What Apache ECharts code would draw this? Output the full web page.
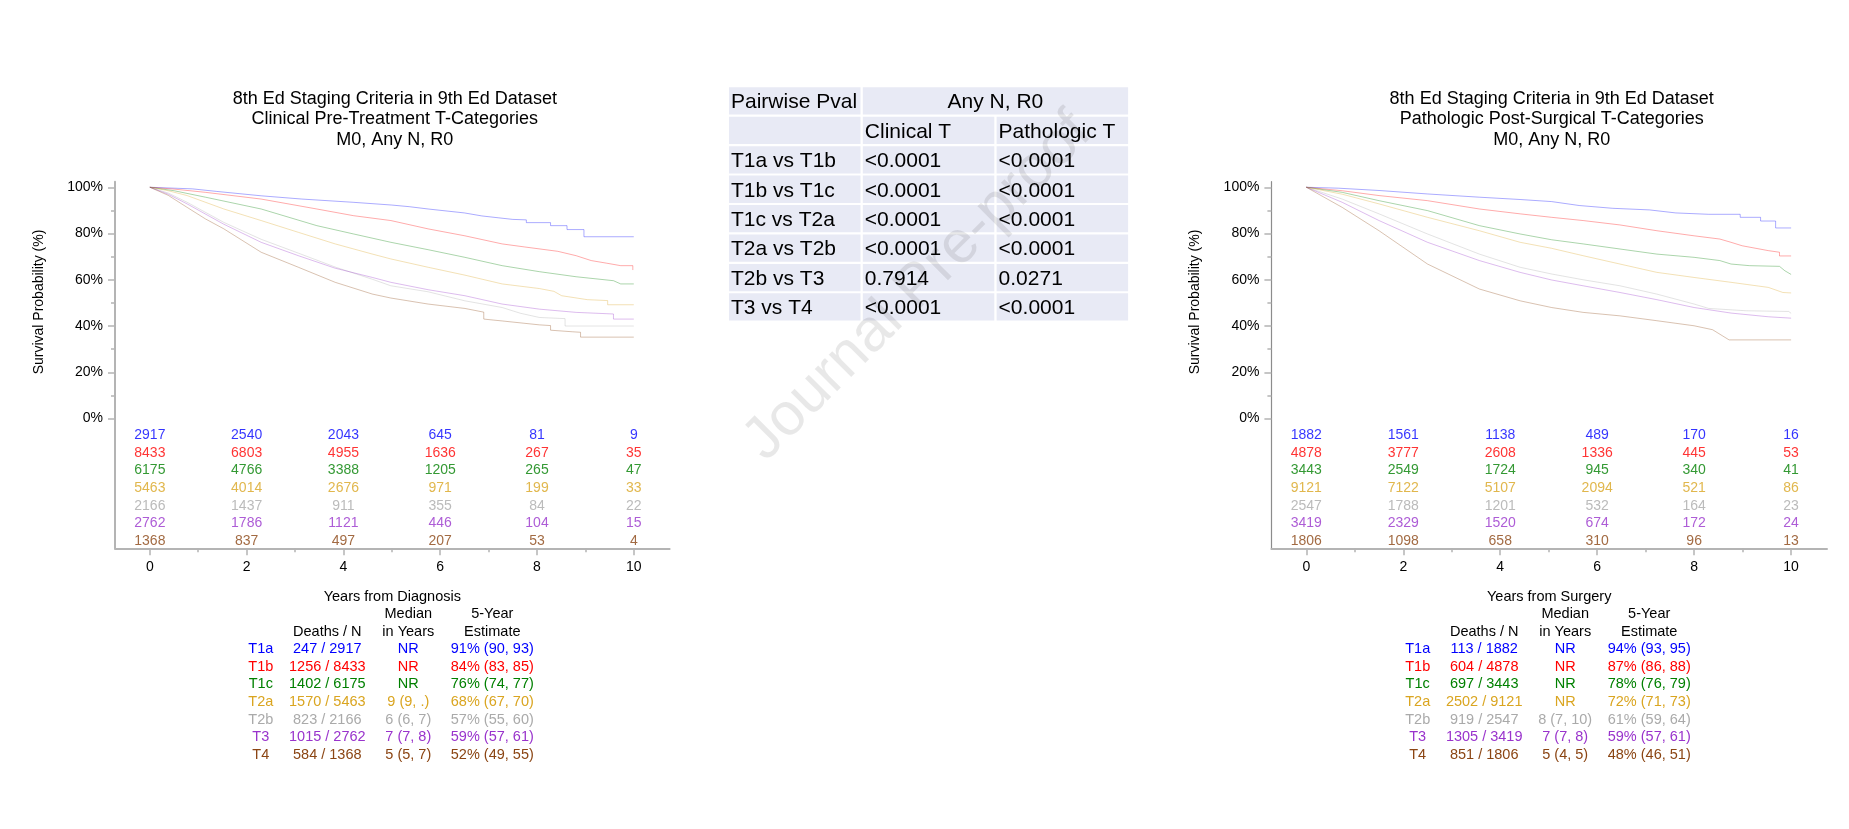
<!DOCTYPE html>
<html>
<head>
<meta charset="utf-8">
<script src="https://cdn.jsdelivr.net/npm/echarts@6/dist/echarts.min.js"></script>
<style>html,body{margin:0;padding:0;background:#fff}#c{width:1849px;height:829px}</style>
</head>
<body>
<div id="c"></div>
<script>
// ---------------- DATA ----------------
const groups = ['T1a', 'T1b', 'T1c', 'T2a', 'T2b', 'T3', 'T4'];
const years = [0, 2, 4, 6, 8, 10];
const minorYears = [1, 3, 5, 7, 9];
const pctTicks = [0, 20, 40, 60, 80, 100];
const pctMinor = [10, 30, 50, 70, 90];

// Clinical (left) KM curves [years, survival %]
const cT1a = [[0,100],[0.5,99.6],[0.88,99.3],[1.38,98.2],[2.3,96.3],[3.14,94.9],[4.2,93.5],[5.0,92.3],[5.36,91.6],[5.75,90.6],[6.5,88.9],[6.86,87.6],[7.2,86.8],[7.5,86.1],[7.78,85.9],[7.78,84.7],[8.28,84.7],[8.28,83.4],[8.62,83.4],[8.62,81.7],[8.97,81.7],[8.97,78.6],[10,78.6]];
const cT1b = [[0,100],[0.5,99.2],[1.15,97.8],[2.3,94.9],[3.45,90.6],[4.21,87.7],[4.98,85.6],[5.75,82.0],[6.51,79.0],[7.28,75.5],[7.74,74.2],[8.43,72.3],[8.81,70.4],[9.12,68.3],[9.43,67.2],[9.73,66.1],[9.98,66.1],[9.98,64.2]];
const cT1c = [[0,100],[0.5,98.5],[1.15,95.7],[2.3,90.6],[3.45,83.4],[4.21,79.8],[4.98,76.2],[5.75,73.0],[6.51,69.7],[7.28,66.1],[8.05,63.5],[8.81,61.3],[9.58,59.6],[9.73,58.2],[10,58.2]];
const cT2a = [[0,100],[0.38,98.5],[0.77,96.4],[1.53,90.6],[2.3,85.6],[3.07,80.5],[3.83,75.5],[4.6,71.1],[4.98,69.0],[5.75,65.4],[6.51,62.0],[7.28,58.2],[8.05,56.2],[8.35,55.0],[8.51,53.1],[9.04,51.4],[9.46,51.0],[9.46,49.2],[10,49.2]];
const cT2b = [[0,100],[0.38,97.5],[0.77,93.5],[1.53,84.8],[2.3,77.5],[3.07,71.5],[3.83,65.5],[4.6,60.2],[4.98,57.4],[5.75,54.8],[6.51,50.9],[7.28,48.0],[7.66,45.5],[8.05,43.7],[8.58,43.2],[8.58,40.0],[10,40.0]];
const cT3 = [[0,100],[0.38,97.0],[0.77,92.8],[1.53,84.0],[2.3,76.2],[3.07,70.4],[3.83,65.0],[4.6,61.0],[4.98,58.9],[5.75,55.7],[6.51,53.1],[7.28,49.5],[8.05,47.3],[8.81,45.9],[9.58,45.2],[9.58,43.0],[10,43.0]];
const cT4 = [[0,100],[0.38,96.5],[0.77,91.3],[1.15,86.3],[1.53,82.0],[2.3,71.9],[3.07,65.4],[3.83,58.9],[4.6,53.8],[4.98,52.1],[5.75,49.5],[6.51,47.6],[6.9,46.0],[6.9,43.0],[7.28,42.2],[8.05,40.5],[8.28,40.2],[8.28,38.2],[8.74,37.5],[8.9,37.3],[8.9,35.2],[10,35.2]];

// Pathologic (right) KM curves
const pT1a = [[0,100],[0.66,99.6],[1.5,98.6],[2.5,97.1],[3.57,95.7],[4.41,94.7],[5.06,93.8],[5.63,92.1],[6.32,90.9],[7.08,90.2],[7.62,88.9],[8.3,88.3],[8.95,88.3],[8.95,87.0],[9.37,87.0],[9.37,85.4],[9.68,85.4],[9.68,82.4],[10,82.4]];
const pT1b = [[0,100],[0.74,98.5],[1.5,96.4],[2.5,94.2],[3.57,90.6],[4.41,88.5],[5.06,87.0],[5.71,85.6],[6.47,83.7],[7.23,81.2],[8.0,79.0],[8.53,77.6],[8.76,76.2],[8.99,74.7],[9.53,72.6],[9.76,71.9],[9.76,70.3],[10,70.3]];
const pT1c = [[0,100],[0.74,97.8],[1.5,94.2],[2.5,89.9],[3.57,83.4],[4.41,79.8],[5.06,77.3],[5.71,75.5],[6.47,73.3],[7.23,71.1],[8.0,69.7],[8.53,68.3],[8.76,66.8],[9.14,66.1],[9.76,65.8],[9.87,63.9],[10,62.3]];
const pT2a = [[0,100],[0.74,97.0],[1.5,92.8],[2.5,87.0],[3.57,81.2],[4.41,76.2],[5.06,73.6],[5.71,70.4],[6.47,66.8],[7.23,63.2],[8.0,61.0],[8.76,58.9],[9.53,56.7],[9.83,54.5],[10,54.3]];
const pT2b = [[0,100],[0.74,94.9],[1.5,88.5],[2.5,79.8],[3.57,71.1],[4.41,65.4],[5.06,62.5],[5.71,60.0],[6.47,57.4],[7.23,53.8],[8.0,49.5],[8.3,47.6],[9.07,46.6],[9.95,46.3],[9.95,45.5],[10,45.5]];
const pT3 = [[0,100],[0.74,93.5],[1.5,85.6],[2.5,76.2],[3.57,68.3],[4.41,63.2],[5.06,59.9],[5.71,57.4],[6.47,54.5],[7.23,51.4],[8.0,48.0],[8.76,45.6],[9.53,44.0],[10,43.4]];
const pT4 = [[0,100],[0.74,91.3],[1.5,81.2],[2.5,66.8],[3.57,56.0],[4.41,50.9],[5.06,48.0],[5.71,45.9],[6.47,44.4],[7.23,42.3],[8.0,40.1],[8.38,38.4],[8.72,34.0],[10,34.0]];

const clinicalCurves = [cT1a, cT1b, cT1c, cT2a, cT2b, cT3, cT4];
const pathologicCurves = [pT1a, pT1b, pT1c, pT2a, pT2b, pT3, pT4];

// Numbers at risk (rows = groups, columns = years)
const clinicalRisk = [
  [2917, 2540, 2043, 645, 81, 9],
  [8433, 6803, 4955, 1636, 267, 35],
  [6175, 4766, 3388, 1205, 265, 47],
  [5463, 4014, 2676, 971, 199, 33],
  [2166, 1437, 911, 355, 84, 22],
  [2762, 1786, 1121, 446, 104, 15],
  [1368, 837, 497, 207, 53, 4]
];
const pathologicRisk = [
  [1882, 1561, 1138, 489, 170, 16],
  [4878, 3777, 2608, 1336, 445, 53],
  [3443, 2549, 1724, 945, 340, 41],
  [9121, 7122, 5107, 2094, 521, 86],
  [2547, 1788, 1201, 532, 164, 23],
  [3419, 2329, 1520, 674, 172, 24],
  [1806, 1098, 658, 310, 96, 13]
];

// Summary tables
const clinicalDeaths = [247, 1256, 1402, 1570, 823, 1015, 584];
const clinicalN = [2917, 8433, 6175, 5463, 2166, 2762, 1368];
const clinicalMedian = ['NR', 'NR', 'NR', '9 (9, .)', '6 (6, 7)', '7 (7, 8)', '5 (5, 7)'];
const clinicalEstimate = ['91% (90, 93)', '84% (83, 85)', '76% (74, 77)', '68% (67, 70)', '57% (55, 60)', '59% (57, 61)', '52% (49, 55)'];
const pathologicDeaths = [113, 604, 697, 2502, 919, 1305, 851];
const pathologicN = [1882, 4878, 3443, 9121, 2547, 3419, 1806];
const pathologicMedian = ['NR', 'NR', 'NR', 'NR', '8 (7, 10)', '7 (7, 8)', '5 (4, 5)'];
const pathologicEstimate = ['94% (93, 95)', '87% (86, 88)', '78% (76, 79)', '72% (71, 73)', '61% (59, 64)', '59% (57, 61)', '48% (46, 51)'];

// Pairwise p-values
const pairs = ['T1a vs T1b', 'T1b vs T1c', 'T1c vs T2a', 'T2a vs T2b', 'T2b vs T3', 'T3 vs T4'];
const clinicalP = ['<0.0001', '<0.0001', '<0.0001', '<0.0001', '0.7914', '<0.0001'];
const pathologicP = ['<0.0001', '<0.0001', '<0.0001', '<0.0001', '0.0271', '<0.0001'];

// ---------------- STYLE ----------------
const FONT = '"Liberation Sans", Arial, sans-serif';
const colors = ['#0000ff', '#ff0000', '#008000', '#daa520', '#aaaaaa', '#9933cc', '#8b4513'];
const AXIS_COLOR = '#b4b4b4';

const panels = [
  { left: 115, width: 554.6, center: 392.3,
    title: ['8th Ed Staging Criteria in 9th Ed Dataset', 'Clinical Pre-Treatment T-Categories', 'M0, Any N, R0'],
    xName: 'Years from Diagnosis', yNameX: 39, yLine: { color: AXIS_COLOR, width: 2 },
    curves: clinicalCurves, risk: clinicalRisk,
    deaths: clinicalDeaths, n: clinicalN, median: clinicalMedian, est: clinicalEstimate },
  { left: 1271.4, width: 555.6, center: 1549.2,
    title: ['8th Ed Staging Criteria in 9th Ed Dataset', 'Pathologic Post-Surgical T-Categories', 'M0, Any N, R0'],
    xName: 'Years from Surgery', yNameX: 1195, yLine: { color: '#8c8c8c', width: 1.2 },
    curves: pathologicCurves, risk: pathologicRisk,
    deaths: pathologicDeaths, n: pathologicN, median: pathologicMedian, est: pathologicEstimate }
];
const GRID_TOP = 181.7, GRID_H = 366.6;

const grid = [], xAxis = [], yAxis = [], series = [], graphic = [];

panels.forEach((p, pi) => {
  grid.push({ left: p.left, top: GRID_TOP, width: p.width, height: GRID_H, containLabel: false });
  const xi = xAxis.length, yi = yAxis.length;
  // main x axis
  xAxis.push({
    type: 'value', gridIndex: pi, min: -0.72, max: 10.74, position: 'bottom',
    axisLine: { show: true, onZero: false, lineStyle: { color: AXIS_COLOR, width: 2 } },
    axisTick: { show: true, customValues: years, length: 7, lineStyle: { color: AXIS_COLOR, width: 1.5 } },
    axisLabel: { show: true, customValues: years, margin: 12, fontSize: 14, color: '#000', fontFamily: FONT },
    splitLine: { show: false },
    name: p.xName, nameLocation: 'middle', nameGap: 41,
    nameTextStyle: { fontSize: 14.5, color: '#000', fontFamily: FONT }
  });
  // minor x ticks
  xAxis.push({
    type: 'value', gridIndex: pi, min: -0.72, max: 10.74, position: 'bottom',
    axisLine: { show: false, onZero: false },
    axisTick: { show: true, customValues: minorYears, length: 4, lineStyle: { color: AXIS_COLOR, width: 1.5 } },
    axisLabel: { show: false }, splitLine: { show: false }
  });
  // main y axis
  yAxis.push({
    type: 'value', gridIndex: pi, min: -56.1, max: 102.4, position: 'left',
    axisLine: { show: true, onZero: false, lineStyle: p.yLine },
    axisTick: { show: true, customValues: pctTicks, length: 7, lineStyle: { color: AXIS_COLOR, width: 1.5 } },
    axisLabel: { show: true, customValues: pctTicks, margin: 12, fontSize: 14, color: '#000', fontFamily: FONT, formatter: '{value}%' },
    splitLine: { show: false }
  });
  // minor y ticks
  yAxis.push({
    type: 'value', gridIndex: pi, min: -56.1, max: 102.4, position: 'left',
    axisLine: { show: false, onZero: false },
    axisTick: { show: true, customValues: pctMinor, length: 4, lineStyle: { color: AXIS_COLOR, width: 1.5 } },
    axisLabel: { show: false }, splitLine: { show: false }
  });
  // hidden axis for the number-at-risk rows
  yAxis.push({
    type: 'value', gridIndex: pi, min: -14.335, max: 6.41, inverse: true, position: 'left', show: false
  });

  // KM curves
  p.curves.forEach((curve, gi) => {
    series.push({
      type: 'line', name: groups[gi], xAxisIndex: xi, yAxisIndex: yi, data: curve,
      showSymbol: false, symbol: 'none', silent: true, z: 3,
      lineStyle: { color: colors[gi], width: 1, opacity: 0.33 }
    });
  });
  // number at risk
  p.risk.forEach((row, gi) => {
    series.push({
      type: 'scatter', xAxisIndex: xi, yAxisIndex: yi + 2, silent: true,
      symbolSize: 0,
      data: row.map((v, k) => [years[k], gi, v]),
      label: { show: true, position: 'inside', formatter: (d) => String(d.value[2]),
               color: colors[gi], fontSize: 14, fontFamily: FONT }
    });
  });

  // panel titles
  p.title.forEach((t, li) => {
    graphic.push({ type: 'text', x: p.center + 2.5, y: 99.3 + li * 20.2, silent: true,
      style: { text: t, fill: '#000', fontSize: 18, fontFamily: FONT, align: 'center', verticalAlign: 'middle' } });
  });
  // y-axis title
  graphic.push({ type: 'text', x: p.yNameX, y: 302, rotation: Math.PI / 2, silent: true,
    style: { text: 'Survival Probability (%)', fill: '#000', fontSize: 14, fontFamily: FONT, align: 'center', verticalAlign: 'middle' } });

  // summary table under the plot
  const cols = [p.center - 131.5, p.center - 65, p.center + 16, p.center + 100];
  const headTxt = (x, y, t) => graphic.push({ type: 'text', x, y, silent: true,
    style: { text: t, fill: '#000', fontSize: 14.5, fontFamily: FONT, align: 'center', verticalAlign: 'middle' } });
  headTxt(cols[2], 614, 'Median'); headTxt(cols[3], 614, '5-Year');
  headTxt(cols[1], 631.5, 'Deaths / N'); headTxt(cols[2], 631.5, 'in Years'); headTxt(cols[3], 631.5, 'Estimate');
  groups.forEach((g, gi) => {
    const y = 649 + gi * 17.65;
    const cells = [g, p.deaths[gi] + ' / ' + p.n[gi], p.median[gi], p.est[gi]];
    cells.forEach((t, ci) => graphic.push({ type: 'text', x: cols[ci], y, silent: true,
      style: { text: t, fill: colors[gi], fontSize: 14.5, fontFamily: FONT, align: 'center', verticalAlign: 'middle' } }));
  });
});

// ---------------- Pairwise p-value table ----------------
const T_LEFT = 729, T_TOP = 87.3, ROW_P = 29.43, ROW_H = 27.3, COL_P = 133.8, COL_W = 131.5;
const CELL_BG = '#e8eaf5';
const cell = (c, r, span, text) => {
  const x = T_LEFT + c * COL_P, y = T_TOP + r * ROW_P;
  const w = COL_W + (span - 1) * COL_P;
  graphic.push({ type: 'rect', silent: true, shape: { x, y, width: w, height: ROW_H }, style: { fill: CELL_BG } });
  if (text) {
    const centered = span > 1;
    graphic.push({ type: 'text', silent: true, x: centered ? x + w / 2 : x + 2, y: y + ROW_H / 2 + 1.5,
      style: { text, fill: '#000', fontSize: 21, fontFamily: FONT, align: centered ? 'center' : 'left', verticalAlign: 'middle' } });
  }
};
cell(0, 0, 1, 'Pairwise Pval');
cell(1, 0, 2, 'Any N, R0');
cell(0, 1, 1, '');
cell(1, 1, 1, 'Clinical T');
cell(2, 1, 1, 'Pathologic T');
pairs.forEach((pr, i) => {
  cell(0, i + 2, 1, pr);
  cell(1, i + 2, 1, clinicalP[i]);
  cell(2, i + 2, 1, pathologicP[i]);
});

// watermark
graphic.push({ type: 'text', x: 918, y: 287, rotation: Math.PI / 4, silent: true, z: 100,
  style: { text: 'Journal Pre-proof', fill: 'rgba(0,0,0,0.09)', fontSize: 60, fontFamily: FONT, align: 'center', verticalAlign: 'middle' } });

const chart = echarts.init(document.getElementById('c'), null, { renderer: 'canvas' });
chart.setOption({
  animation: false,
  backgroundColor: '#ffffff',
  textStyle: { fontFamily: FONT },
  grid, xAxis, yAxis, series, graphic
});
</script>
</body>
</html>
